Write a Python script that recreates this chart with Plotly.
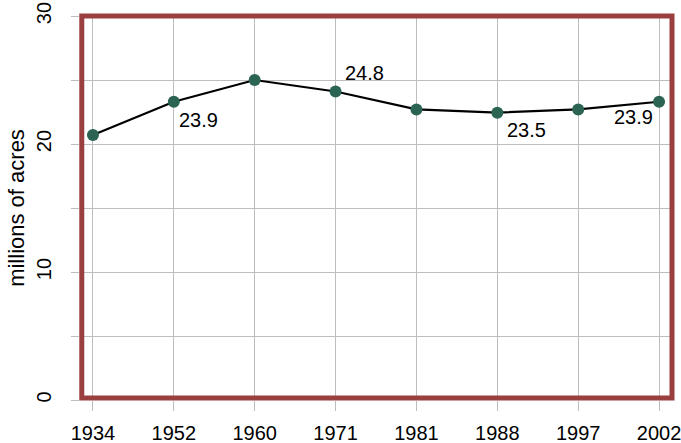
import plotly.graph_objects as go

years = ["1934", "1952", "1960", "1971", "1981", "1988", "1997", "2002"]
acres = [20.7, 23.3, 25.0, 24.1, 22.7, 22.45, 22.7, 23.3]

label_years = ["1952", "1971", "1988", "2002"]
label_texts = ["23.9", "24.8", "23.5", "23.9"]
label_anchor = ["left", "left", "left", "right"]
label_dx = [3, 7, 8, -4]
label_dy = [-18, 19, -17, -15]

y_ticks = [0, 5, 10, 15, 20, 25, 30]
y_tick_text = ["0", "", "10", "", "20", "", "30"]

FONT = "Liberation Sans, Arial, Helvetica, sans-serif"

fig = go.Figure()
fig.add_trace(go.Scatter(
    x=years, y=acres, mode="lines+markers",
    line=dict(color="black", width=2.2),
    marker=dict(color="#2b6452", size=12),
    cliponaxis=False, showlegend=False, hoverinfo="skip",
))

for yr, t, a, dx, dy in zip(label_years, label_texts, label_anchor, label_dx, label_dy):
    i = years.index(yr)
    fig.add_annotation(x=i, y=acres[i], text=t, showarrow=False, xanchor=a, yanchor="middle",
                       xshift=dx, yshift=dy, font=dict(size=20, color="black", family=FONT))

fig.add_shape(type="rect", xref="paper", yref="paper", x0=0.003, x1=1.0, y0=0.005, y1=1.0,
              line=dict(color="#9a3f3f", width=5), layer="above")

fig.update_layout(
    width=681, height=443,
    margin=dict(l=80, r=9, t=16, b=43, autoexpand=False),
    paper_bgcolor="white", plot_bgcolor="white",
    font=dict(family=FONT, size=20, color="black"),
    xaxis=dict(
        type="category", range=[-0.16, 7.16], automargin=False, ticklabelstandoff=5,
        showgrid=True, gridcolor="#bdbdbd", gridwidth=1,
        ticks="outside", ticklen=10, tickcolor="#bdbdbd", tickwidth=1,
        tickfont=dict(size=20), showline=False, zeroline=False,
    ),
    yaxis=dict(
        range=[0, 30], tickvals=y_ticks, ticktext=y_tick_text, tickangle=-90,
        automargin=False, ticklabelstandoff=12,
        showgrid=True, gridcolor="#bdbdbd", gridwidth=1,
        ticks="outside", ticklen=8, tickcolor="#bdbdbd", tickwidth=1,
        tickfont=dict(size=20), showline=False, zeroline=False,
        title=dict(text="millions of acres", font=dict(size=22), standoff=2),
    ),
)

fig.write_html("out.html", config={"displayModeBar": False},
               post_script="document.body.style.margin='0';document.body.style.overflow='hidden';")
